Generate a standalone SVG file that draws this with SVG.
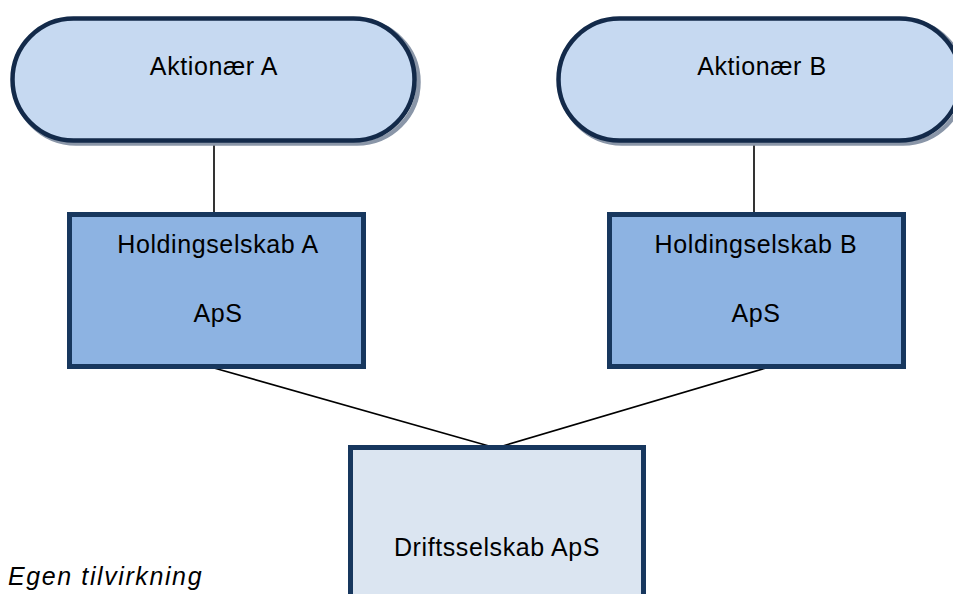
<svg xmlns="http://www.w3.org/2000/svg" width="953" height="594" viewBox="0 0 953 594">
<style>
.pill{fill:#C6D9F1;stroke:#132A4A;stroke-width:4.5}
.shadow{fill:none;stroke:#8a96a8;stroke-width:4.5}
.hold{fill:#8DB3E2;stroke:#17375E;stroke-width:5}
.drift{fill:#DBE5F1;stroke:#17375E;stroke-width:5}
.lbl{font-family:"Liberation Sans",Arial,sans-serif;font-size:25px;letter-spacing:0.6px;fill:#000;text-anchor:middle}
.conn{stroke:#000;stroke-width:1.6;fill:none}
</style>
<rect width="953" height="594" fill="#fff"/>
<g id="connectors">
<line class="conn" x1="214" y1="143" x2="214" y2="212"/>
<line class="conn" x1="754" y1="143" x2="754" y2="212"/>
<line class="conn" x1="214" y1="368" x2="496" y2="448"/>
<line class="conn" x1="766" y1="368" x2="496" y2="448"/>
</g>
<g id="aktionaer-a">
<rect class="shadow" x="14.5" y="20.5" width="404" height="123" rx="61.5"/>
<rect class="pill" x="12.5" y="18.5" width="402" height="122" rx="61"/>
<text class="lbl" x="214" y="75">Aktionær A</text>
</g>
<g id="aktionaer-b">
<rect class="shadow" x="560.5" y="20.5" width="404" height="123" rx="61.5"/>
<rect class="pill" x="558.5" y="18.5" width="402" height="122" rx="61"/>
<text class="lbl" x="762" y="75">Aktionær B</text>
</g>
<g id="holding-a">
<rect class="hold" x="69.5" y="214.5" width="294" height="152"/>
<text class="lbl" x="218" y="253">Holdingselskab A</text>
<text class="lbl" x="218" y="322">ApS</text>
</g>
<g id="holding-b">
<rect class="hold" x="609.5" y="214.5" width="294" height="152"/>
<text class="lbl" x="756" y="253">Holdingselskab B</text>
<text class="lbl" x="756" y="322">ApS</text>
</g>
<g id="drift">
<rect class="drift" x="350.5" y="447.5" width="293" height="160"/>
<text class="lbl" x="497" y="556">Driftsselskab ApS</text>
</g>
<text x="8" y="585" style="font-family:'Liberation Sans',Arial,sans-serif;font-size:25px;letter-spacing:1.6px;font-style:italic;fill:#000">Egen tilvirkning</text>
</svg>
